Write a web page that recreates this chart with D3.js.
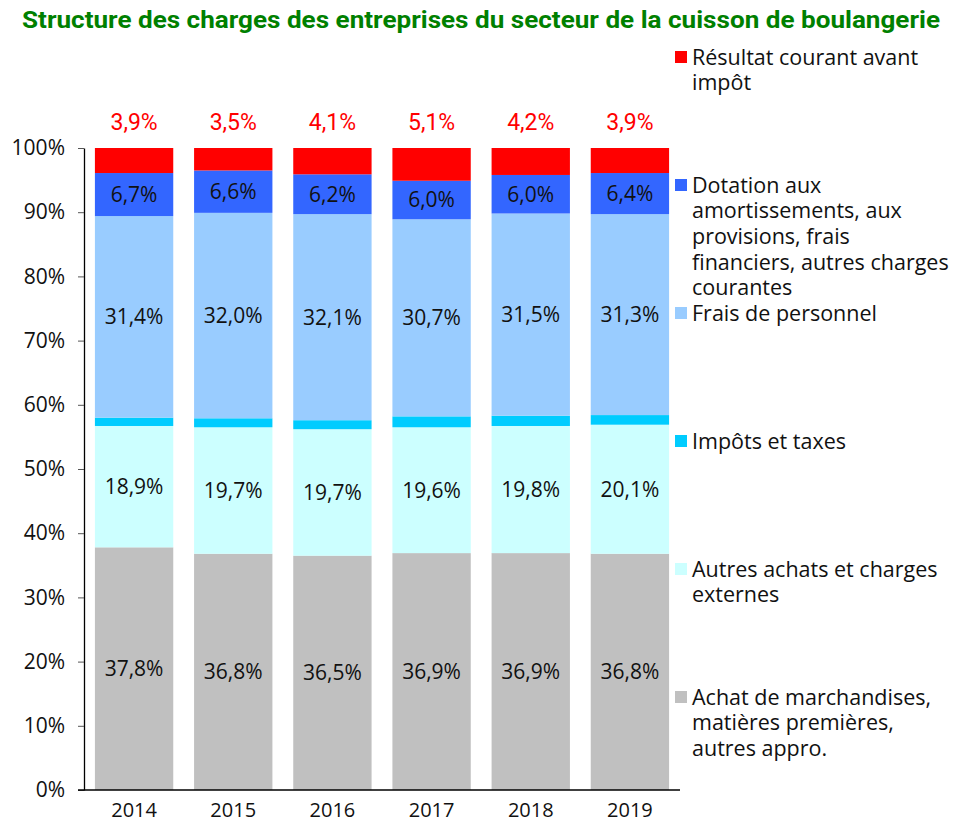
<!DOCTYPE html>
<html>
<head>
<meta charset="utf-8">
<script src="https://cdn.jsdelivr.net/npm/d3@7"></script>
<style>
  body { margin: 0; background: #fff; }
  svg { display: block; }
  text { font-family: "Open Sans", sans-serif; }
</style>
</head>
<body>
<svg id="chart" width="954" height="825"></svg>
<script>
const years = ["2014", "2015", "2016", "2017", "2018", "2019"];
const achat = [37.8, 36.8, 36.5, 36.9, 36.9, 36.8];
const autresAchats = [18.9, 19.7, 19.7, 19.6, 19.8, 20.1];
const impots = [1.3, 1.4, 1.4, 1.7, 1.6, 1.5];
const personnel = [31.4, 32.0, 32.1, 30.7, 31.5, 31.3];
const dotation = [6.7, 6.6, 6.2, 6.0, 6.0, 6.4];
const resultat = [3.9, 3.5, 4.1, 5.1, 4.2, 3.9];
const yTicks = [0, 10, 20, 30, 40, 50, 60, 70, 80, 90, 100];

// series from bottom to top
const series = [
  {key: "achat", lines: ["Achat de marchandises,", "matières premières,", "autres appro."], values: achat, color: "#C0C0C0", label: true},
  {key: "autres", lines: ["Autres achats et charges", "externes"], values: autresAchats, color: "#CCFFFF", label: true},
  {key: "impots", lines: ["Impôts et taxes"], values: impots, color: "#00CCFF", label: false},
  {key: "personnel", lines: ["Frais de personnel"], values: personnel, color: "#99CCFF", label: true},
  {key: "dotation", lines: ["Dotation aux", "amortissements, aux", "provisions, frais", "financiers, autres charges", "courantes"], values: dotation, color: "#3366FF", label: true},
  {key: "resultat", lines: ["Résultat courant avant", "impôt"], values: resultat, color: "#FF0000", label: false}
];

const table = years.map((y, i) => {
  const row = {year: y};
  series.forEach(s => row[s.key] = s.values[i]);
  return row;
});

const svg = d3.select("#chart");
const fmt = v => v.toFixed(1).replace(".", ",") + "%";

const x = d3.scaleBand().domain(years).range([84, 680]).paddingInner(0.21).paddingOuter(0.11);
const y = d3.scaleLinear().domain([0, 100]).range([790, 148]);

// title
svg.append("text")
  .attr("x", 481).attr("y", 28)
  .attr("text-anchor", "middle")
  .attr("fill", "#008000")
  .style("font-family", "Roboto, sans-serif")
  .style("font-weight", "bold")
  .style("font-size", "23px")
  .attr("textLength", 918)
  .attr("lengthAdjust", "spacingAndGlyphs")
  .text("Structure des charges des entreprises du secteur de la cuisson de boulangerie");

const stack = d3.stack().keys(series.map(s => s.key))(table);

const layers = svg.append("g").selectAll("g")
  .data(stack)
  .join("g")
  .attr("fill", (d, i) => series[i].color);

layers.selectAll("rect")
  .data(d => d)
  .join("rect")
  .attr("x", d => x(d.data.year))
  .attr("width", x.bandwidth())
  .attr("y", d => y(d[1]))
  .attr("height", d => y(d[0]) - y(d[1]));

// labels inside segments
stack.forEach((layer, i) => {
  if (!series[i].label) return;
  svg.append("g").selectAll("text")
    .data(layer)
    .join("text")
    .attr("x", d => x(d.data.year) + x.bandwidth() / 2)
    .attr("y", d => y((d[0] + d[1]) / 2))
    .attr("dy", "0.35em")
    .attr("text-anchor", "middle")
    .style("font-size", "21px")
    .attr("fill", "#111")
    .text(d => fmt(d[1] - d[0]));
});

// résultat labels above bars
svg.append("g").selectAll("text")
  .data(years)
  .join("text")
  .attr("x", d => x(d) + x.bandwidth() / 2)
  .attr("y", 130)
  .attr("text-anchor", "middle")
  .attr("fill", "#FF0000")
  .style("font-family", "Roboto, sans-serif")
  .style("font-size", "23px")
  .text((d, i) => fmt(resultat[i]));

// y axis
const yAxis = svg.append("g")
  .attr("transform", "translate(84,0)")
  .call(d3.axisLeft(y).tickValues(yTicks).tickFormat(d => d + "%").tickSize(6).tickSizeOuter(0));
yAxis.select(".domain").attr("stroke", "#000").attr("stroke-width", 1.3);
yAxis.selectAll(".tick line").attr("stroke", "#555");
yAxis.selectAll("text").style("font-size", "21px").attr("fill", "#111").attr("x", -19);

// x axis
const xAxis = svg.append("g")
  .attr("transform", "translate(0,790)")
  .call(d3.axisBottom(x).tickSize(0).tickSizeOuter(0));
xAxis.select(".domain").attr("d", "M78,0H680").attr("stroke", "#000").attr("stroke-width", 1.3);
xAxis.selectAll("text").style("font-size", "20px").attr("fill", "#111").attr("dy", "1.2em");

// legend, top to bottom
const legend = svg.append("g");
series.slice().reverse().forEach((s, i) => {
  const cy = 57 + i * 128;
  const g = legend.append("g");
  g.append("rect")
    .attr("x", 675).attr("y", cy - 6)
    .attr("width", 12).attr("height", 12)
    .attr("fill", s.color);
  const t = g.append("text")
    .attr("x", 692).attr("y", cy)
    .style("font-size", "21.5px")
    .attr("fill", "#111");
  s.lines.forEach((ln, j) => {
    t.append("tspan").attr("x", 692).attr("dy", j === 0 ? "0.35em" : "25.7").text(ln);
  });
});
</script>
</body>
</html>
